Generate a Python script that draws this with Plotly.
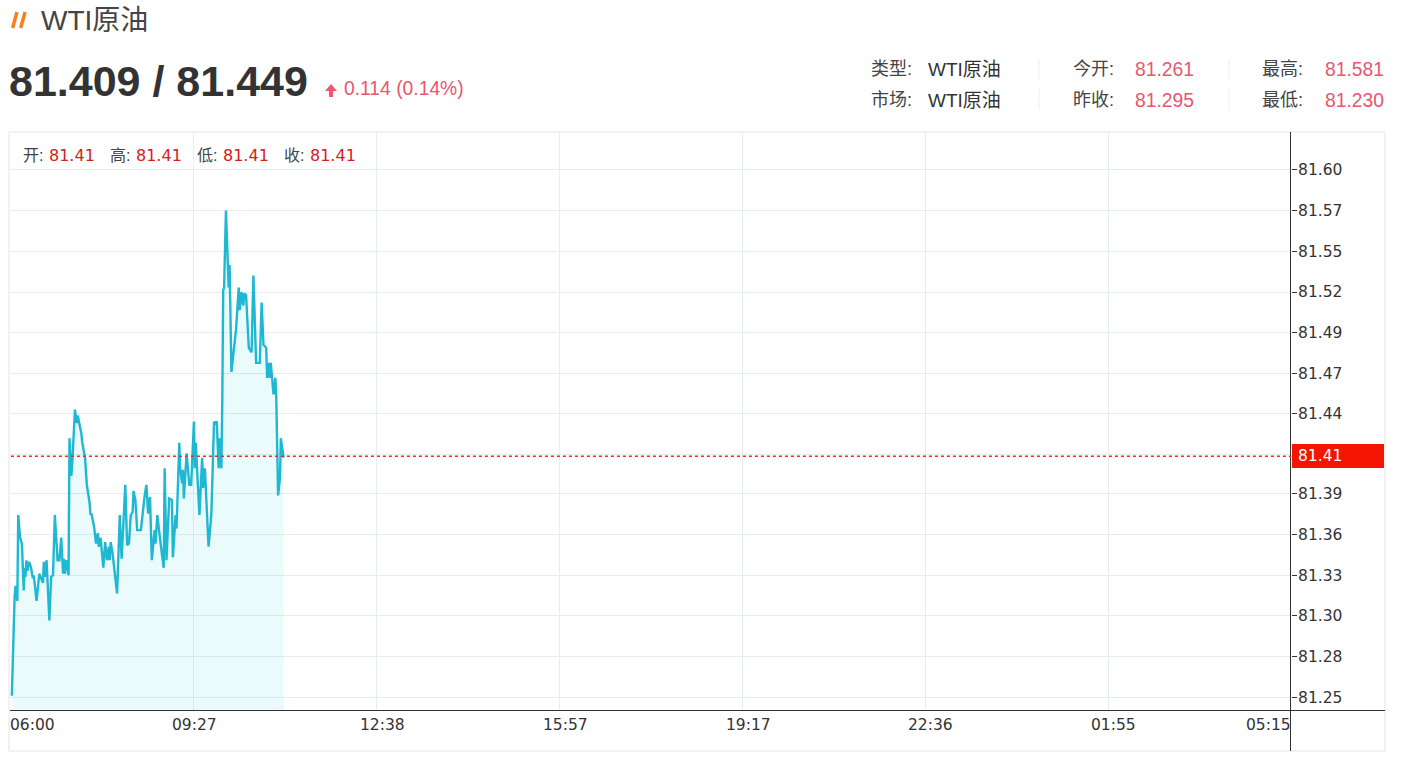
import plotly.graph_objects as go

W, H = 1401, 769

bar_index = [1,2,3,4,5,7,8,10,12,14,15,16,17,18,20,22,24,25,28,29,31,35,36,37,39,42,44,46,48,51,53,55,57,58,59,61,63,64,66,67,70,72,73,77,78,81,83,86,87,88,91,93,95,96,98,101,103,105,107,108,109,111,114,116,119,121,125,127,129,131,133,134,136,138,141,
             142,146,148,150,152,154,157,158,160,164,167,168,170,173,176,177,180,181,184,185,187,188,189,192,195,197,200,201,202,206,209,210,212,216,219,222,223,225,227,228,230,231,232,233,235,238,239,241,246,249,250,252,254,255,257,260,263,265,268,272,274,276,279,280,282,283,284,287,289,290,292,294,295,298]
prices = [81.251,81.277,81.296,81.316,81.324,81.314,81.371,81.356,81.352,81.321,81.336,81.330,81.341,81.334,81.340,81.336,81.329,81.331,81.314,81.320,81.332,81.326,81.340,81.330,81.341,81.301,81.330,81.331,81.371,81.341,81.341,81.356,81.332,81.342,81.332,81.341,81.331,81.422,81.397,81.405,81.441,81.432,81.437,81.425,81.419,81.409,81.391,81.379,81.371,81.372,81.363,81.352,81.359,81.350,81.356,81.336,81.353,81.341,81.350,81.341,81.353,81.346,81.331,81.319,81.371,81.342,81.391,81.351,81.352,81.371,81.373,81.387,81.381,81.361,81.361,
          81.361,81.383,81.391,81.372,81.383,81.341,81.361,81.352,81.371,81.350,81.336,81.402,81.341,81.382,81.381,81.343,81.371,81.362,81.419,81.402,81.392,81.401,81.382,81.412,81.391,81.391,81.433,81.402,81.419,81.371,81.409,81.389,81.402,81.350,81.371,81.433,81.432,81.433,81.402,81.422,81.402,81.447,81.520,81.522,81.573,81.522,81.537,81.466,81.494,81.522,81.507,81.519,81.510,81.518,81.517,81.482,81.479,81.530,81.472,81.472,81.512,81.484,81.482,81.462,81.472,81.462,81.472,81.451,81.462,81.449,81.384,81.395,81.422,81.409]
x_ticks = [0,200,400,600,800,1000,1200,1400]
x_labels = ["06:00","09:27","12:38","15:57","19:17","22:36","01:55","05:15"]
y_ticks = [81.25,81.277,81.304,81.331,81.358,81.385,81.4115,81.4385,81.465,81.492,81.519,81.546,81.573,81.60]
y_labels = ["81.25","81.28","81.30","81.33","81.36","81.39","","81.44","81.47","81.49","81.52","81.55","81.57","81.60"]
last_price = 81.41
name = "WTI原油"
headline = "81.409 / 81.449"
change = "0.114 (0.14%)"
ohlc = [("开:", "81.41"), ("高:", "81.41"), ("低:", "81.41"), ("收:", "81.41")]
stats = [("类型:", "WTI原油", "#333333"), ("市场:", "WTI原油", "#333333"),
         ("今开:", "81.261", "#e9566f"), ("昨收:", "81.295", "#e9566f"),
         ("最高:", "81.581", "#e9566f"), ("最低:", "81.230", "#e9566f")]

SANS = "Liberation Sans, Noto Sans CJK SC, sans-serif"
AXF = "DejaVu Sans, sans-serif"
px = lambda v: v / W
py = lambda v: 1 - v / H

fig = go.Figure(go.Scatter(x=bar_index, y=prices, mode="lines",
                           line=dict(color="#1fb8d3", width=2.4),
                           fill="tozeroy", fillcolor="rgba(30,200,215,0.09)",
                           hoverinfo="skip"))

def txt(x, y, s, size, color, font=SANS, anchor="left"):
    fig.add_annotation(xref="paper", yref="paper", x=px(x), y=py(y), text=s, showarrow=False,
                       xanchor=anchor, yanchor="middle", font=dict(family=font, size=size, color=color),
                       borderpad=0, borderwidth=0)

def line(x0, y0, x1, y1, color, width=1):
    fig.add_shape(type="line", xref="paper", yref="paper", x0=px(x0), y0=py(y0), x1=px(x1), y1=py(y1),
                  line=dict(color=color, width=width), layer="above")

# header
line(12.7, 28, 16.9, 12, "#f58220", 3.5)
line(20.7, 28, 25.1, 12, "#f58220", 3.5)
txt(41, 20, name, 28, "#444444")
txt(9, 81, f"<b>{headline}</b>", 43, "#333333")
fig.add_shape(type="path", xref="paper", yref="paper", layer="above", fillcolor="#f0566f", line=dict(width=0),
              path=f"M {px(331)} {py(84)} L {px(337)} {py(91)} L {px(333)} {py(91)} L {px(333)} {py(97)} L {px(329)} {py(97)} L {px(329)} {py(91)} L {px(325)} {py(91)} Z")
txt(344, 88, change, 19.3, "#e9566f")

cols = [(871, 928), (1073, 1135), (1262, 1325)]
rows = [69, 100]
for i, (lab, val, c) in enumerate(stats):
    cx = cols[i // 2]
    ry = rows[i % 2]
    txt(cx[0], ry, lab, 18, "#444444")
    txt(cx[1], ry, val, 19.3 if i >= 2 else 19, c)
for sx in (1039, 1229):
    line(sx, 59, sx, 80, "#eeeeee")
    line(sx, 89, sx, 110, "#eeeeee")

# frame
fig.add_shape(type="rect", xref="paper", yref="paper", x0=px(9), x1=px(1385), y0=py(751), y1=py(132),
              line=dict(color="#e4e4e4", width=1), layer="below")
line(1290.5, 132, 1290.5, 751, "#333333")
line(10, 710.5, 1385, 710.5, "#333333")

# ohlc legend
for (lab, val), lx in zip(ohlc, (23, 110, 197, 284)):
    txt(lx, 155, lab, 16, "#444444")
    txt(lx + 26, 155, val, 16, "#d4201a", AXF)

# last price marker
fig.add_shape(type="line", xref="x", yref="y", x0=0, x1=1400, y0=last_price, y1=last_price,
              line=dict(color="#f02a1c", width=1.5, dash="dot"), layer="above")
fig.add_shape(type="rect", xref="paper", yref="paper", x0=px(1292), x1=px(1384), y0=py(468), y1=py(444),
              fillcolor="#f41500", line=dict(width=0), layer="above")
txt(1298, 456, f"{last_price:.2f}", 15.5, "#ffffff", AXF)

# x labels
label_px = [10, 194, 382, 565, 748, 931, 1113, 1291]
for lab, lx, v in zip(x_labels, label_px, x_ticks):
    anchor = "left" if v == 0 else ("right" if v == 1400 else "center")
    txt(lx, 725, lab, 15.5, "#333333", AXF, anchor)

fig.update_layout(
    width=W, height=H, margin=dict(l=0, r=0, t=0, b=0), autosize=False,
    paper_bgcolor="white", plot_bgcolor="white", showlegend=False,
    xaxis=dict(domain=[px(10), px(1291)], range=[-1, 1399], tickmode="array", tickvals=x_ticks,
               ticktext=[""] * len(x_ticks), showgrid=True, gridcolor="#e6edf1", gridwidth=1.4,
               zeroline=False, showline=False, ticks=""),
    yaxis=dict(domain=[py(710), py(132)], range=[81.2416, 81.6252], side="right", tickmode="array",
               tickvals=y_ticks, ticktext=y_labels, showgrid=True, gridcolor="#e6edf1", gridwidth=1.4,
               zeroline=False, showline=False, ticks="outside", ticklen=5, tickcolor="#333333",
               ticklabelstandoff=-2,
               tickfont=dict(family=AXF, size=15.5, color="#333333")),
)
fig.write_html("out.html", config={"displayModeBar": False},
               post_script="document.body.style.margin='0';document.body.style.overflow='hidden';")
